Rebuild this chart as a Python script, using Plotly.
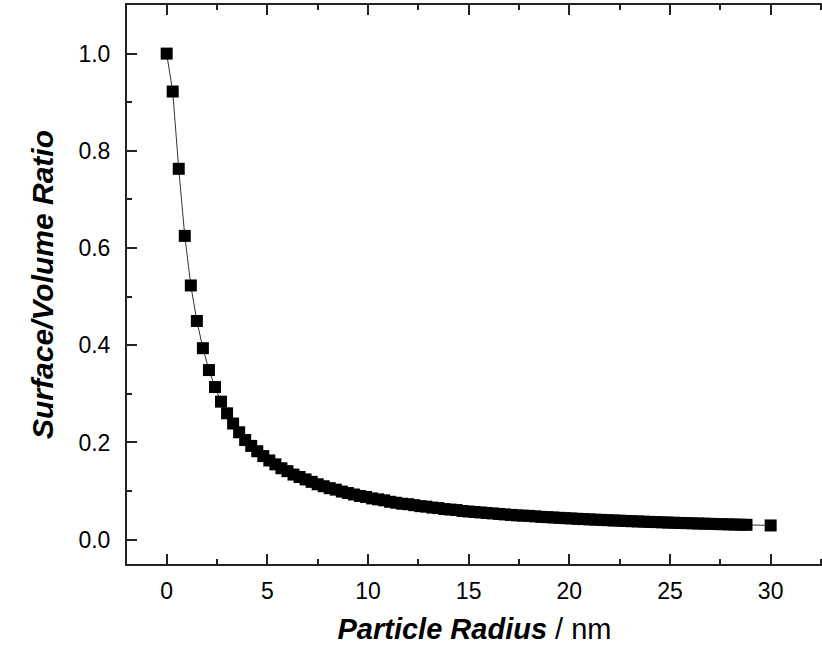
import plotly.graph_objects as go

# Particle radius (nm) and normalised surface-to-volume ratio
radius_nm = [
    0.0, 0.3, 0.6, 0.9, 1.2, 1.5, 1.8, 2.1, 2.4, 2.7,
    3.0, 3.3, 3.6, 3.9, 4.2, 4.5, 4.8, 5.1, 5.4, 5.7,
    6.0, 6.3, 6.6, 6.9, 7.2, 7.5, 7.8, 8.1, 8.4, 8.7,
    9.0, 9.3, 9.6, 9.9, 10.2, 10.5, 10.8, 11.1, 11.4, 11.7,
    12.0, 12.3, 12.6, 12.9, 13.2, 13.5, 13.8, 14.1, 14.4, 14.7,
    15.0, 15.3, 15.6, 15.9, 16.2, 16.5, 16.8, 17.1, 17.4, 17.7,
    18.0, 18.3, 18.6, 18.9, 19.2, 19.5, 19.8, 20.1, 20.4, 20.7,
    21.0, 21.3, 21.6, 21.9, 22.2, 22.5, 22.8, 23.1, 23.4, 23.7,
    24.0, 24.3, 24.6, 24.9, 25.2, 25.5, 25.8, 26.1, 26.4, 26.7,
    27.0, 27.3, 27.6, 27.9, 28.2, 28.5, 28.8, 30.0,
]
sv_ratio = [
    1.000, 0.922, 0.763, 0.625, 0.523, 0.450, 0.394, 0.349, 0.314, 0.284,
    0.260, 0.239, 0.221, 0.205, 0.193, 0.182, 0.172, 0.163, 0.155, 0.147,
    0.141, 0.134, 0.129, 0.124, 0.119, 0.114, 0.110, 0.106, 0.103, 0.099,
    0.096, 0.093, 0.090, 0.088, 0.085, 0.083, 0.081, 0.078, 0.076, 0.074,
    0.073, 0.071, 0.069, 0.068, 0.066, 0.065, 0.063, 0.062, 0.061, 0.059,
    0.058, 0.057, 0.056, 0.055, 0.054, 0.053, 0.052, 0.051, 0.050, 0.0495,
    0.049, 0.048, 0.047, 0.0464, 0.0457, 0.045, 0.0443, 0.0437, 0.043, 0.0424,
    0.0418, 0.0412, 0.0407, 0.0401, 0.0396, 0.0391, 0.0386, 0.038, 0.0376, 0.0371,
    0.0366, 0.0362, 0.0357, 0.0353, 0.0349, 0.0345, 0.0341, 0.0337, 0.0333, 0.033,
    0.0326, 0.0322, 0.0319, 0.0315, 0.0312, 0.0309, 0.0306, 0.0293,
]

x_ticks = [0, 5, 10, 15, 20, 25, 30]
y_ticks = [0.0, 0.2, 0.4, 0.6, 0.8, 1.0]
y_tick_text = ["0.0", "0.2", "0.4", "0.6", "0.8", "1.0"]

FONT = "Liberation Sans, Arial, sans-serif"
AXIS_COLOR = "#222222"

fig = go.Figure()
fig.add_trace(go.Scatter(
    x=radius_nm,
    y=sv_ratio,
    mode="lines+markers",
    line=dict(color="#333333", width=1),
    marker=dict(symbol="square", size=12, color="black",
                line=dict(width=0)),
    showlegend=False,
))

fig.update_layout(
    width=822,
    height=653,
    margin=dict(l=127, r=0, t=5, b=89),
    paper_bgcolor="white",
    plot_bgcolor="white",
    font=dict(family=FONT, color="black"),
)

fig.update_xaxes(
    range=[-1.97, 32.55],
    tickvals=x_ticks,
    ticks="inside",
    ticklen=10,
    tickwidth=2,
    tickcolor=AXIS_COLOR,
    minor=dict(dtick=2.5, tick0=0, ticks="inside", ticklen=5,
               tickwidth=2, tickcolor=AXIS_COLOR),
    showline=True,
    linecolor=AXIS_COLOR,
    linewidth=2,
    mirror="ticks",
    showgrid=False,
    zeroline=False,
    tickfont=dict(family=FONT, size=23, color="black"),
    ticklabelstandoff=5,
    title=dict(text="<b><i>Particle Radius</i></b> / nm",
               font=dict(family=FONT, size=29, color="black"),
               standoff=16),
)

fig.update_yaxes(
    range=[-0.05, 1.1],
    tickvals=y_ticks,
    ticktext=y_tick_text,
    ticks="inside",
    ticklen=10,
    tickwidth=2,
    tickcolor=AXIS_COLOR,
    minor=dict(dtick=0.1, tick0=0, ticks="inside", ticklen=5,
               tickwidth=2, tickcolor=AXIS_COLOR),
    showline=True,
    linecolor=AXIS_COLOR,
    linewidth=2,
    mirror=False,
    showgrid=False,
    zeroline=False,
    tickfont=dict(family=FONT, size=23, color="black"),
    ticklabelstandoff=10,
    title=dict(text="<b><i>Surface/Volume Ratio</i></b>",
               font=dict(family=FONT, size=30, color="black"),
               standoff=16),
)

fig.write_html("out.html")
